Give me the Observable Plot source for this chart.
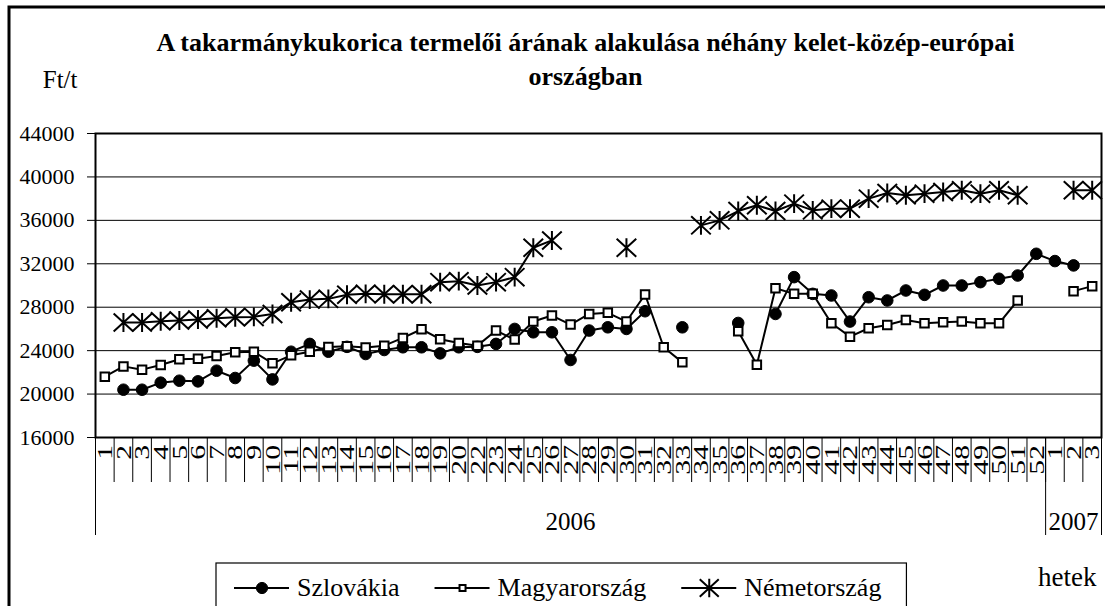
<!DOCTYPE html>
<html>
<head>
<meta charset="utf-8">
<script src="https://cdn.jsdelivr.net/npm/d3@7"></script>
<script src="https://cdn.jsdelivr.net/npm/@observablehq/plot@0.6"></script>
<style>
html, body { margin: 0; padding: 0; background: #fff; }
#chart { width: 1105px; height: 606px; overflow: hidden; }
#chart svg, #chart svg text { font-family: "Liberation Serif", "Nimbus Roman", "FreeSerif", "Noto Serif", "Liberation Sans", Arial, sans-serif !important; }
</style>
</head>
<body>
<div id="chart"></div>
<script>
// ---- Data ----
const titleLine1 = "A takarmánykukorica termelői árának alakulása néhány kelet-közép-európai";
const titleLine2 = "országban";
const yUnit = "Ft/t";
const xUnit = "hetek";

// category labels (weeks); week 21 of 2006 is absent in the source
const weekLabels = [
  "1","2","3","4","5","6","7","8","9","10","11","12","13","14","15","16","17","18","19","20",
  "22","23","24","25","26","27","28","29","30","31","32","33","34","35","36","37","38","39","40",
  "41","42","43","44","45","46","47","48","49","50","51","52",
  "1","2","3"
];
const yearNames = ["2006", "2007"];
const yearCounts = [51, 3];

const yTicks = [16000, 20000, 24000, 28000, 32000, 36000, 40000, 44000];

const seriesNames = ["Szlovákia", "Magyarország", "Németország"];

const szlovakia = [
  null, 20400, 20400, 21050, 21230, 21170, 22150, 21480, 23080, 21350,
  23900, 24620, 23900, 24350, 23690, 24060, 24310, 24310, 23750, 24310,
  24350, 24620, 26000, 25690, 25690, 23140, 25850, 26150, 26000, 27630,
  null, 26150, null, null, 26550, null, 27380, 30770, 29230, 29080,
  26680, 28920, 28620, 29540, 29140, 30000, 30000, 30310, 30620, 30920,
  32920, 32250, 31850, null
];
const magyarorszag = [
  21600, 22550, 22250, 22680, 23200, 23260, 23500, 23850, 23900, 22830,
  23570, 23900, 24340, 24400, 24280, 24460, 25170, 25970, 25050, 24700,
  24460, 25850, 25020, 26680, 27230, 26400, 27380, 27480, 26680, 29170,
  24310, 22920, null, null, 25780, 22710, 29750, 29230, 29230, 26520,
  25290, 26060, 26370, 26830, 26520, 26620, 26680, 26520, 26520, 28620,
  null, null, 29480, 29940
];
const nemetorszag = [
  null, 26600, 26600, 26700, 26770, 26860, 26980, 27080, 27110, 27380,
  28460, 28700, 28770, 29140, 29230, 29200, 29200, 29200, 30310, 30400,
  30000, 30310, 30770, 33480, 34150, null, null, null, 33480, null,
  null, null, 35540, 36000, 36860, 37390, 36860, 37540, 36920, 37080,
  37080, 38000, 38520, 38310, 38460, 38620, 38770, 38460, 38770, 38310,
  null, null, 38770, 38770
];

// ---- Derived tables ----
const n = weekLabels.length;
const toRows = vals => vals.map((v, i) => ({x: i + 0.5, y: v}));
const sk = toRows(szlovakia), hu = toRows(magyarorszag), de = toRows(nemetorszag);
const boundaries = d3.range(n + 1);
let acc = 0;
const yearRows = yearNames.map((y, k) => { const s = acc; acc += yearCounts[k]; return {year: y, start: s, end: acc}; });
const separators = [0, ...yearRows.map(d => d.end)];

// ---- Layout ----
const W = 1105, H = 606, mL = 95, mR = 4, mT = 133, mB = 169;
const frameH = H - mT - mB;
const FONT = "Liberation Serif, Liberation Sans, Arial, sans-serif";

// Excel-like star marker: an X plus a vertical bar
const starSymbol = {
  draw(ctx, size) {
    const r = Math.sqrt(size / Math.PI), w = r, h = r * 0.92;
    ctx.moveTo(-w, -h); ctx.lineTo(w, h);
    ctx.moveTo(-w, h); ctx.lineTo(w, -h);
    ctx.moveTo(0, -h * 1.05); ctx.lineTo(0, h * 1.05);
  }
};

const plot = Plot.plot({
  width: W, height: H,
  marginLeft: mL, marginRight: mR, marginTop: mT, marginBottom: mB,
  style: {fontFamily: FONT, fontSize: "22px", color: "#000", background: "#fff", overflow: "visible"},
  x: {domain: [0, n], axis: null},
  y: {domain: [yTicks[0], yTicks[yTicks.length - 1]], ticks: yTicks, tickSize: 8, tickPadding: 13,
      tickFormat: d3.format("d"), label: null},
  marks: [
    Plot.ruleY(yTicks, {stroke: "#000", strokeWidth: 1}),
    Plot.frame({stroke: "#000", strokeWidth: 2}),
    Plot.ruleX(boundaries, {x: d => d, insetTop: frameH, insetBottom: -45, stroke: "#000", strokeWidth: 1}),
    Plot.ruleX(separators, {x: d => d, insetTop: frameH, insetBottom: -98, stroke: "#000", strokeWidth: 1}),
    Plot.text(yearRows, {x: d => (d.start + d.end) / 2, text: d => d.year, frameAnchor: "bottom", lineAnchor: "middle", dy: 84, fontSize: 25}),
    Plot.text([xUnit], {text: d => d, frameAnchor: "bottom-right", lineAnchor: "middle", textAnchor: "end", dx: -5, dy: 140, fontSize: 27}),
    Plot.text([yUnit], {text: d => d, frameAnchor: "top-left", lineAnchor: "middle", textAnchor: "end", dx: -18, dy: -54, fontSize: 25}),
    Plot.text([titleLine1], {text: d => d, frameAnchor: "top", lineAnchor: "middle", dx: -13, dy: -91, fontSize: 26, fontWeight: "bold"}),
    Plot.text([titleLine2], {text: d => d, frameAnchor: "top", lineAnchor: "middle", dx: -13, dy: -57, fontSize: 26, fontWeight: "bold"}),
    Plot.line(sk, {x: "x", y: "y", stroke: "#000", strokeWidth: 2}),
    Plot.dot(sk, {x: "x", y: "y", r: 5.8, fill: "#000", stroke: "#000", strokeWidth: 1}),
    Plot.line(hu, {x: "x", y: "y", stroke: "#000", strokeWidth: 2}),
    Plot.dot(hu, {x: "x", y: "y", symbol: "square", r: 4.8, fill: "#fff", stroke: "#000", strokeWidth: 2}),
    Plot.line(de, {x: "x", y: "y", stroke: "#000", strokeWidth: 2}),
    Plot.dot(de, {x: "x", y: "y", symbol: starSymbol, r: 9.8, fill: "none", stroke: "#000", strokeWidth: 2})
  ]
});

document.getElementById("chart").appendChild(plot);
const svg = d3.select(plot);
const xs = plot.scale("x");

// rotated week labels, placed with Plot's x scale, stretched along reading direction as in the source
const wl = svg.append("g").attr("font-size", 22).attr("text-anchor", "end");
weekLabels.forEach((lab, i) => {
  wl.append("text")
    .attr("transform", `translate(${xs.apply(i + 0.5)},${H - mB + 8}) rotate(-90) scale(1.35,1)`)
    .attr("dy", "0.35em")
    .text(lab);
});

// outer chart border
svg.insert("rect", ":first-child")
  .attr("x", 9).attr("y", 7).attr("width", 1200).attr("height", 700)
  .attr("fill", "none").attr("stroke", "#000").attr("stroke-width", 3);

// legend
const lg = svg.append("g").attr("font-size", 26).attr("text-anchor", "start");
const box = lg.append("rect").attr("x", 216).attr("y", 563).attr("height", 80)
  .attr("fill", "#fff").attr("stroke", "#000").attr("stroke-width", 1.2);
const ly = 588;
let x0 = 234;
const legendSymbols = [
  {type: d3.symbolCircle, size: Math.PI * 5.6 * 5.6, fill: "#000", sw: 1},
  {type: d3.symbolSquare, size: 36, fill: "#fff", sw: 2},
  {type: starSymbol, size: Math.PI * 9.5 * 9.5, fill: "none", sw: 2}
];
seriesNames.forEach((name, k) => {
  lg.append("line").attr("x1", x0).attr("x2", x0 + 55).attr("y1", ly).attr("y2", ly)
    .attr("stroke", "#000").attr("stroke-width", 2);
  const s = legendSymbols[k];
  lg.append("path").attr("transform", `translate(${x0 + 28},${ly})`)
    .attr("d", d3.symbol(s.type, s.size)())
    .attr("fill", s.fill).attr("stroke", "#000").attr("stroke-width", s.sw);
  const t = lg.append("text").attr("x", x0 + 63).attr("y", ly).attr("dy", "0.32em").text(name);
  const w = t.node().getComputedTextLength();
  x0 = x0 + 63 + w + 35;
});
box.attr("width", x0 - 35 + 25 - 216);
</script>
</body>
</html>
